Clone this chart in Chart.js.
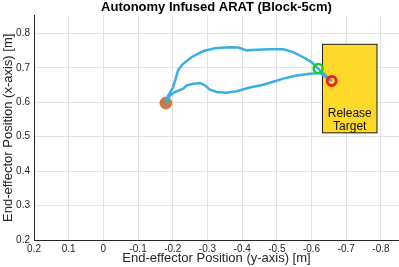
<!DOCTYPE html>
<html>
<head>
<meta charset="utf-8">
<script src="https://cdn.jsdelivr.net/npm/chart.js@4/dist/chart.umd.min.js"></script>
<style>
  html, body { margin: 0; padding: 0; background: #fff; }
  #wrap { width: 399px; height: 267px; }
</style>
</head>
<body>
<div id="wrap"><canvas id="chart" width="399" height="267"></canvas></div>
<script>
// Trajectory (horizontal = y-axis position, vertical = x-axis position)
const pathX = [-0.180, -0.187, -0.201, -0.211, -0.216, -0.230, -0.254, -0.288, -0.322, -0.365,
  -0.389, -0.413, -0.442, -0.480, -0.518, -0.547, -0.576, -0.600, -0.619, -0.658,
  -0.624, -0.595, -0.557, -0.518, -0.480, -0.461, -0.422, -0.384, -0.355, -0.327,
  -0.307, -0.293, -0.278, -0.259, -0.240, -0.230, -0.206, -0.192, -0.180];
const pathY = [0.598, 0.620, 0.644, 0.678, 0.695, 0.712, 0.731, 0.749, 0.757, 0.760,
  0.759, 0.751, 0.753, 0.754, 0.754, 0.746, 0.731, 0.717, 0.698, 0.662,
  0.685, 0.683, 0.678, 0.669, 0.657, 0.651, 0.643, 0.632, 0.628, 0.630,
  0.637, 0.649, 0.656, 0.654, 0.649, 0.640, 0.630, 0.620, 0.598];

const startPt = { x: -0.180, y: 0.598 };
const greenPt = { x: -0.619, y: 0.698 };
const redPt = { x: -0.658, y: 0.662 };

// Release target box
const targetX = [-0.63, -0.79];
const targetY = [0.51, 0.77];
const targetLabel = ["Release", "Target"];

const xTicks = [0.2, 0.1, 0, -0.1, -0.2, -0.3, -0.4, -0.5, -0.6, -0.7, -0.8];
const yTicks = [0.2, 0.3, 0.4, 0.5, 0.6, 0.7, 0.8];

const FONT = "'Liberation Sans', Arial, Helvetica, sans-serif";

const pathData = pathX.map((x, i) => ({ x: x, y: pathY[i] }));

// draw the yellow release target under the data
const targetBox = {
  id: "targetBox",
  beforeDatasetsDraw(chart) {
    const { ctx, scales } = chart;
    const x1 = scales.x.getPixelForValue(targetX[0]);
    const x2 = scales.x.getPixelForValue(targetX[1]);
    const y1 = scales.y.getPixelForValue(targetY[1]);
    const y2 = scales.y.getPixelForValue(targetY[0]);
    ctx.save();
    ctx.fillStyle = "#FFD92A";
    ctx.strokeStyle = "#222";
    ctx.lineWidth = 1;
    ctx.fillRect(x1, y1, x2 - x1, y2 - y1);
    ctx.strokeRect(x1 + 0.5, y1 + 0.5, x2 - x1 - 1, y2 - y1 - 1);
    ctx.fillStyle = "#111";
    ctx.font = "12px " + FONT;
    ctx.textAlign = "center";
    ctx.textBaseline = "middle";
    const cx = (x1 + x2) / 2;
    ctx.fillText(targetLabel[0], cx, y2 - 20);
    ctx.fillText(targetLabel[1], cx, y2 - 7);
    ctx.restore();
  }
};

new Chart(document.getElementById("chart"), {
  type: "scatter",
  data: {
    datasets: [
      {
        data: [startPt],
        pointRadius: 6,
        pointBackgroundColor: "rgba(192,100,40,0.85)",
        pointBorderColor: "rgba(192,100,40,0.6)",
        pointBorderWidth: 1,
        order: 3
      },
      {
        data: pathData,
        showLine: true,
        borderColor: "#3AAFE4",
        borderWidth: 2.5,
        pointRadius: 0,
        tension: 0,
        order: 2
      },
      {
        data: [greenPt],
        pointRadius: 4.5,
        pointBackgroundColor: "rgba(0,0,0,0)",
        pointBorderColor: "#1ECB1E",
        pointBorderWidth: 2.5,
        order: 1
      },
      {
        data: [redPt],
        pointRadius: 4.5,
        pointBackgroundColor: "rgba(0,0,0,0)",
        pointBorderColor: "#E8202A",
        pointBorderWidth: 3,
        order: 1
      }
    ]
  },
  options: {
    responsive: false,
    animation: false,
    layout: { padding: 0, autoPadding: false },
    plugins: {
      legend: { display: false },
      tooltip: { enabled: false },
      title: {
        display: true,
        fullSize: false,
        text: "Autonomy Infused ARAT (Block-5cm)",
        color: "#000",
        font: { family: FONT, size: 13, weight: "bold" },
        padding: { top: 0, bottom: 0 }
      }
    },
    scales: {
      x: {
        type: "linear",
        reverse: true,
        min: -0.852,
        max: 0.2,
        afterBuildTicks: (s) => { s.ticks = xTicks.map(v => ({ value: v })); },
        afterFit: (s) => { s.height = 27; },
        grid: { color: "#e3e3e3", drawTicks: false },
        border: { color: "#262626", width: 1 },
        ticks: {
          color: "#262626",
          padding: 3,
          maxRotation: 0,
          font: { family: FONT, size: 10 },
          callback: (v) => String(Math.round(v * 10) / 10)
        },
        title: {
          display: true,
          text: "End-effector Position (y-axis) [m]",
          color: "#262626",
          font: { family: FONT, size: 13 },
          padding: { top: 0, bottom: 1 }
        }
      },
      y: {
        type: "linear",
        min: 0.2,
        max: 0.852,
        afterBuildTicks: (s) => { s.ticks = yTicks.map(v => ({ value: v })); },
        afterFit: (s) => { s.width = 34; },
        grid: { color: "#e3e3e3", drawTicks: false },
        border: { color: "#262626", width: 1 },
        ticks: {
          color: "#262626",
          padding: 4,
          font: { family: FONT, size: 10 },
          callback: (v) => (Math.round(v * 10) / 10).toFixed(1)
        },
        title: {
          display: true,
          text: "End-effector Position (x-axis) [m]",
          color: "#262626",
          font: { family: FONT, size: 13 },
          padding: { top: 1, bottom: 0 }
        }
      }
    }
  },
  plugins: [targetBox]
});
</script>
</body>
</html>
